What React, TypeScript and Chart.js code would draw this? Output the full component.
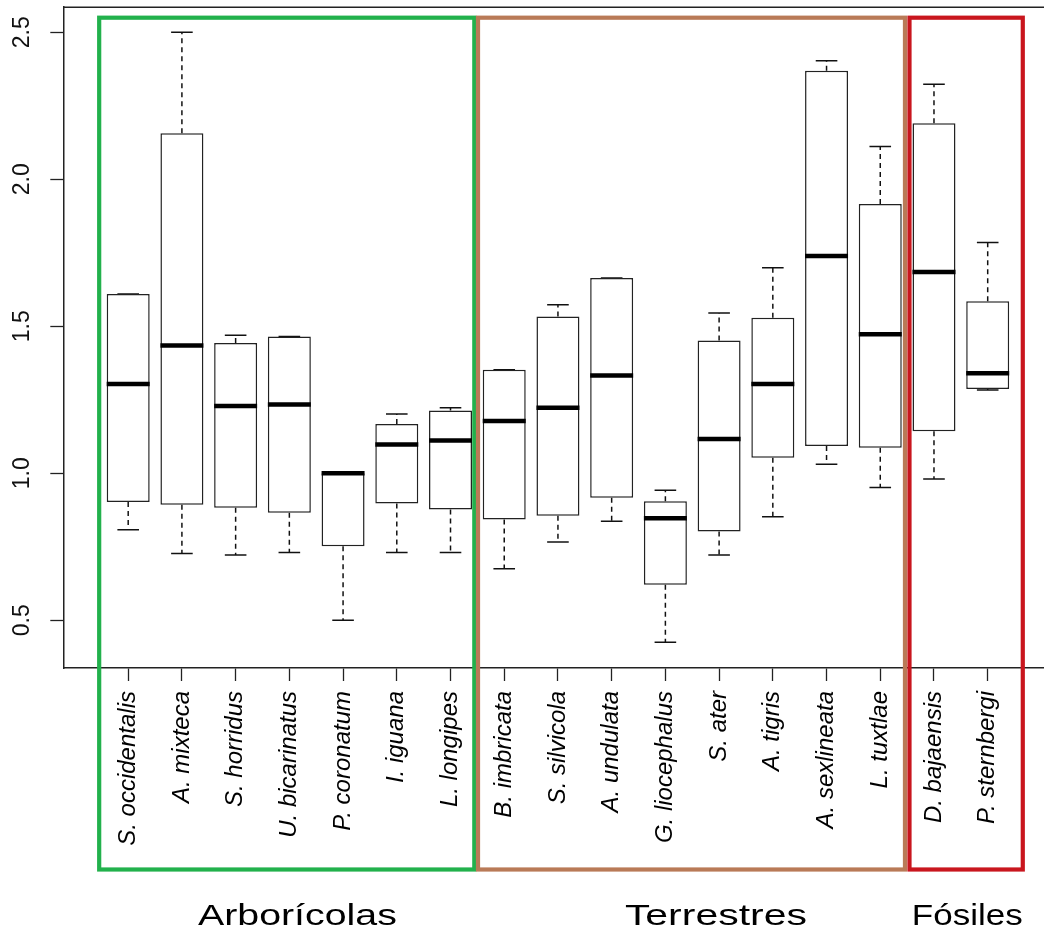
import React, { useEffect, useRef } from "react";
import { Chart, registerables } from "chart.js";

Chart.register(...registerables);

// ---- data ----
const categories = [
  "S. occidentalis", "A. mixteca", "S. horridus", "U. bicarinatus", "P. coronatum",
  "I. iguana", "L. longipes", "B. imbricata", "S. silvicola", "A. undulata",
  "G. liocephalus", "S. ater", "A. tigris", "A. sexlineata", "L. tuxtlae",
  "D. bajaensis", "P. sternbergi",
];
const mins = [0.808, 0.727, 0.722, 0.731, 0.500, 0.731, 0.731, 0.675, 0.766, 0.837, 0.425, 0.722, 0.852, 1.031, 0.952, 0.981, 1.283];
const q1s = [0.902, 0.893, 0.883, 0.866, 0.752, 0.897, 0.877, 0.843, 0.856, 0.917, 0.621, 0.802, 1.053, 1.093, 1.087, 1.143, 1.287];
const medians = [1.304, 1.435, 1.229, 1.234, 1.000, 1.098, 1.112, 1.178, 1.223, 1.333, 0.847, 1.117, 1.304, 1.739, 1.473, 1.685, 1.340];
const q3s = [1.610, 2.157, 1.443, 1.465, 1.000, 1.168, 1.214, 1.352, 1.533, 1.664, 0.905, 1.452, 1.529, 2.369, 1.916, 2.191, 1.585];
const maxs = [1.610, 2.500, 1.470, 1.465, 1.000, 1.202, 1.223, 1.352, 1.573, 1.664, 0.942, 1.545, 1.699, 2.403, 2.112, 2.323, 1.785];
const yTicks = [0.5, 1.0, 1.5, 2.0, 2.5];
const groupNames = ["Arborícolas", "Terrestres", "Fósiles"];

// ---- style / layout ----
const W = 1044;
const H = 939;
const X_MIN = -0.208;
const X_MAX = 18.048;
const Y_MIN = 0.3378;
const Y_MAX = 2.5871;
const groupColors = ["#22b14c", "#b97a57", "#c9161e"];
const RECT_X = [[0.46, 7.443], [7.512, 15.46], [15.544, 17.653]];
const RECT_TOP_OFFSET = 11; // below chart top
const RECT_BOTTOM_OFFSET = 201.5; // below chart bottom
const LABEL_X = [4.15, 11.94, 16.62];
const LABEL_W = [199, 182, 111];
const LABEL_BASELINE_OFFSET = 257;
const FONT = '"Liberation Sans", Arial, sans-serif';

export default function App() {
  const ref = useRef<HTMLCanvasElement | null>(null);

  useEffect(() => {
    const canvas = ref.current;
    if (!canvas) return;

    const whiskerData: any[] = [];
    categories.forEach((_, i) => {
      whiskerData.push({ x: i + 1, y: q3s[i] }, { x: i + 1, y: maxs[i] }, { x: i + 1, y: null });
      whiskerData.push({ x: i + 1, y: q1s[i] }, { x: i + 1, y: mins[i] }, { x: i + 1, y: null });
    });
    const capData: any[] = [];
    categories.forEach((_, i) => {
      capData.push({ x: i + 1, y: maxs[i] }, { x: i + 1, y: mins[i] });
    });

    const decorations = {
      id: "decorations",
      afterDraw(chart: any) {
        const { ctx, chartArea } = chart;
        const xs = chart.scales.x;
        ctx.save();
        // top frame line
        ctx.strokeStyle = "#222";
        ctx.lineWidth = 1.5;
        ctx.beginPath();
        ctx.moveTo(chartArea.left, Math.round(chartArea.top) + 0.25);
        ctx.lineTo(chartArea.right, Math.round(chartArea.top) + 0.25);
        ctx.stroke();
        // group rectangles
        const top = chartArea.top + RECT_TOP_OFFSET;
        const bottom = chartArea.bottom + RECT_BOTTOM_OFFSET;
        RECT_X.forEach((r, g) => {
          const x0 = xs.getPixelForValue(r[0]);
          const x1 = xs.getPixelForValue(r[1]);
          ctx.strokeStyle = groupColors[g];
          ctx.lineWidth = 4.2;
          ctx.strokeRect(x0, top, x1 - x0, bottom - top);
        });
        // group labels
        ctx.fillStyle = "#000";
        ctx.font = `29px ${FONT}`;
        ctx.textAlign = "center";
        ctx.textBaseline = "alphabetic";
        groupNames.forEach((name, g) => {
          const w = ctx.measureText(name).width;
          const sx = LABEL_W[g] / w;
          ctx.save();
          ctx.translate(xs.getPixelForValue(LABEL_X[g]), chartArea.bottom + LABEL_BASELINE_OFFSET);
          ctx.scale(sx, 1);
          ctx.fillText(name, 0, 0);
          ctx.restore();
        });
        ctx.restore();
      },
    };

    const chart = new Chart(canvas, {
      type: "bar",
      data: {
        datasets: [
          {
            type: "scatter",
            label: "median",
            data: categories.map((_, i) => ({ x: i + 1, y: medians[i] })),
            pointStyle: "line",
            pointRadius: 21.5,
            pointHoverRadius: 21.5,
            borderWidth: 4.5,
            pointBorderWidth: 4.5,
            borderColor: "#000",
            backgroundColor: "#000",
            order: 0,
          } as any,
          {
            type: "bar",
            label: "box",
            data: categories.map((_, i) => ({ x: i + 1, y: [q1s[i], q3s[i]] })),
            backgroundColor: "#ffffff",
            borderColor: "#222",
            borderWidth: 1.5,
            borderSkipped: false,
            barPercentage: 0.8,
            categoryPercentage: 1,
            order: 1,
          } as any,
          {
            type: "line",
            label: "whiskers",
            data: whiskerData,
            borderColor: "#111",
            borderWidth: 1.5,
            borderDash: [5, 4],
            pointRadius: 0,
            spanGaps: false,
            fill: false,
            order: 2,
          } as any,
          {
            type: "scatter",
            label: "caps",
            data: capData,
            pointStyle: "line",
            pointRadius: 10.8,
            pointHoverRadius: 10.8,
            borderWidth: 1.5,
            pointBorderWidth: 1.5,
            borderColor: "#111",
            backgroundColor: "#111",
            order: 3,
          } as any,
        ],
      },
      options: {
        animation: false,
        responsive: false,
        devicePixelRatio: 1,
        events: [],
        layout: { autoPadding: false, padding: { top: 6.7, right: 0, bottom: 0, left: 0 } },
        plugins: {
          legend: { display: false },
          tooltip: { enabled: false },
        },
        scales: {
          x: {
            type: "linear",
            offset: false,
            min: X_MIN,
            max: X_MAX,
            afterBuildTicks: (scale: any) => {
              scale.ticks = categories.map((_, i) => ({ value: i + 1 }));
            },
            afterFit: (scale: any) => {
              scale.height = 271;
              scale.paddingLeft = 0;
              scale.paddingRight = 0;
              scale.paddingTop = 0;
              scale.paddingBottom = 0;
            },
            grid: {
              offset: false,
              drawOnChartArea: false,
              drawTicks: true,
              tickLength: 13,
              tickColor: "#222",
              tickWidth: 1.3,
            },
            border: { display: true, color: "#222", width: 1.5 },
            ticks: {
              autoSkip: false,
              minRotation: 90,
              maxRotation: 90,
              padding: 10,
              color: "#000",
              font: { family: FONT, size: 24, style: "italic" },
              callback: (v: any) => categories[Math.round(Number(v)) - 1] ?? "",
            },
          },
          y: {
            type: "linear",
            min: Y_MIN,
            max: Y_MAX,
            afterBuildTicks: (scale: any) => {
              scale.ticks = yTicks.map((v) => ({ value: v }));
            },
            afterFit: (scale: any) => {
              scale.width = 63.3;
              scale.paddingLeft = 0;
              scale.paddingRight = 0;
              scale.paddingTop = 0;
              scale.paddingBottom = 0;
            },
            grid: {
              drawOnChartArea: false,
              drawTicks: true,
              tickLength: 13,
              tickColor: "#222",
              tickWidth: 1.3,
            },
            border: { display: true, color: "#222", width: 1.5 },
            ticks: {
              minRotation: 90,
              maxRotation: 90,
              crossAlign: "center",
              padding: 12,
              color: "#111",
              font: { family: FONT, size: 23 },
              callback: (v: any) => Number(v).toFixed(1),
            },
          },
        },
      },
      plugins: [decorations],
    } as any);

    return () => chart.destroy();
  }, []);

  return (
    <div style={{ position: "absolute", left: 0, top: 0, width: W, height: H, background: "#fff" }}>
      <canvas ref={ref} width={W} height={H} style={{ display: "block", width: W, height: H }} />
    </div>
  );
}
